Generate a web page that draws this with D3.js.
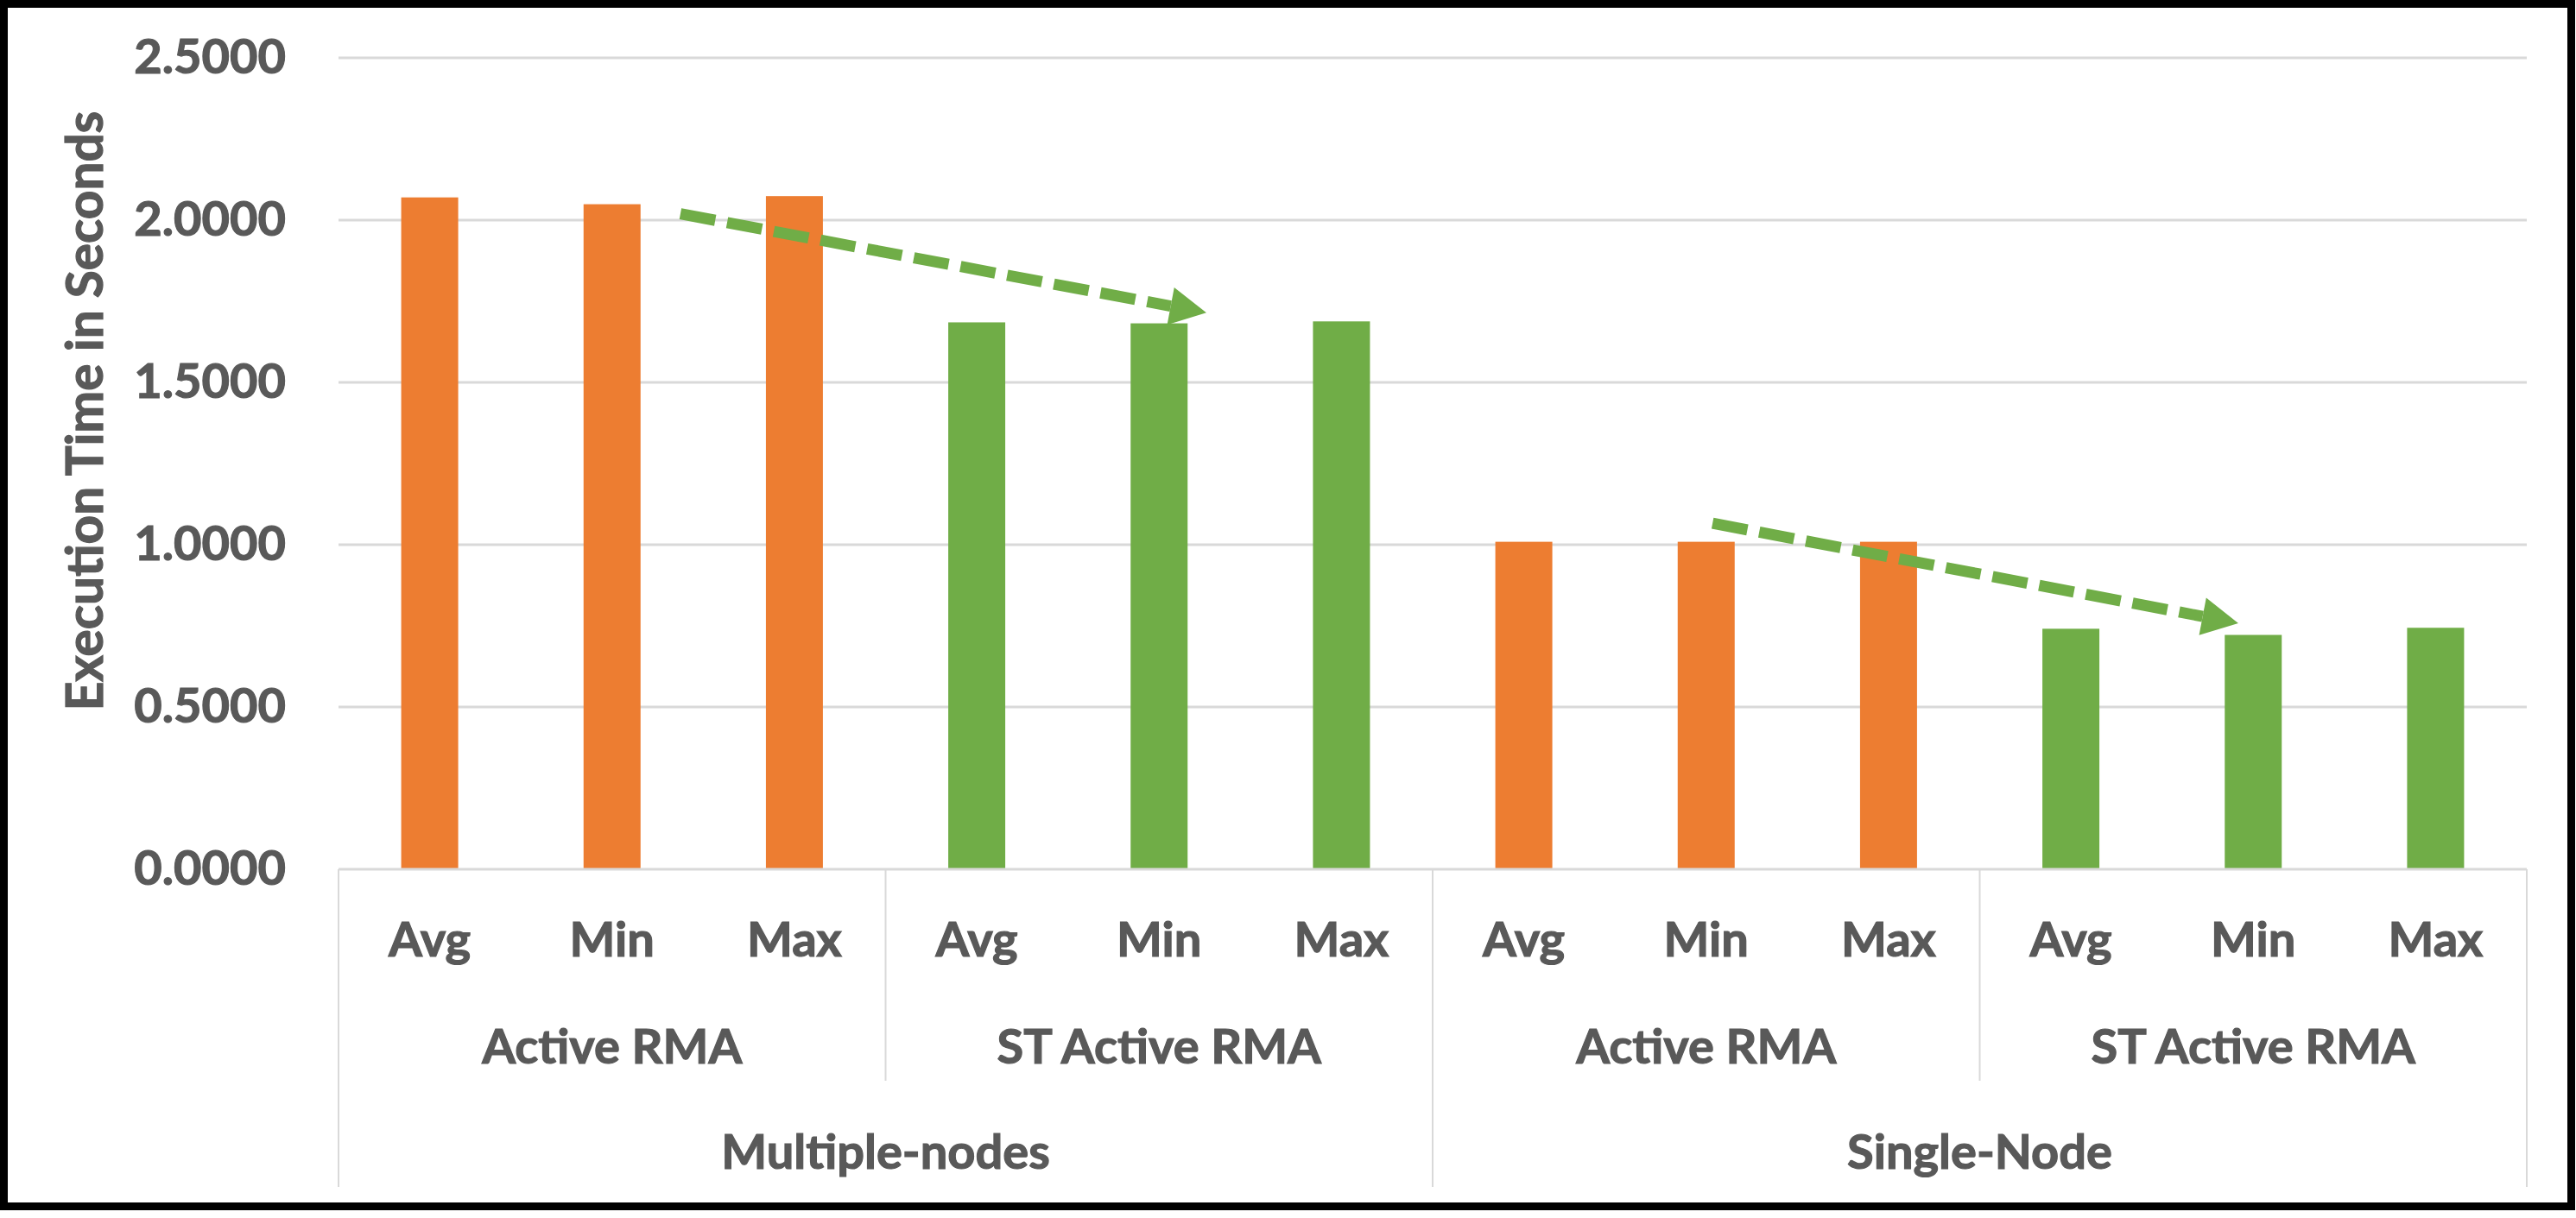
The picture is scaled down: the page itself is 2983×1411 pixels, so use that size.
<!DOCTYPE html>
<html>
<head>
<meta charset="utf-8">
<script src="https://cdn.jsdelivr.net/npm/d3@7"></script>
<style>
  html, body { margin: 0; padding: 0; background: #ffffff; }
  svg { display: block; }
  text { font-family: Lato, "Open Sans", sans-serif; font-weight: 700; fill: #595959; stroke: #595959; stroke-width: 1.2px; }
</style>
</head>
<body>
<svg id="chart" width="2983" height="1411"></svg>
<script>
// ---- data ----
const metrics = ["Avg", "Min", "Max"];
const methods = ["Active RMA", "ST Active RMA"];
const setups = ["Multiple-nodes", "Single-Node"];
const multiActive = [2.070, 2.049, 2.074];
const multiST = [1.685, 1.682, 1.688];
const singleActive = [1.009, 1.009, 1.009];
const singleST = [0.741, 0.722, 0.744];
const yTicks = [0, 0.5, 1.0, 1.5, 2.0, 2.5];
const yTitle = "Execution Time in Seconds";
// trend arrows: position in category-index units (x) and value units (y)
const arrowStartX = [1.875, 7.535];
const arrowStartY = [2.0195, 1.066];
const arrowEndX = [4.759, 10.418];
const arrowEndY = [1.7146, 0.758];

const methodColor = { "Active RMA": "#ED7D31", "ST Active RMA": "#70AD47" };
const seriesBySetup = [[multiActive, multiST], [singleActive, singleST]];

// build flat rows
const rows = [];
setups.forEach((s, si) => {
  methods.forEach((m, mi) => {
    metrics.forEach((k, ki) => {
      rows.push({ setup: s, method: m, metric: k, value: seriesBySetup[si][mi][ki], id: `${si}-${mi}-${ki}` });
    });
  });
});

// ---- layout ----
const svg = d3.select("#chart");
const W = 2983, H = 1411;
const plotL = 392, plotR = 2926, plotT = 67, plotB = 1007;
const grey = "#D9D9D9";

svg.append("rect").attr("x", 0).attr("y", 0).attr("width", W).attr("height", H).attr("fill", "#fff");

const x = d3.scaleBand().domain(rows.map(d => d.id)).range([plotL, plotR])
  .paddingInner(0.6875).paddingOuter(0.6875 / 2);
const xc = d3.scaleLinear().domain([0, rows.length]).range([plotL, plotR]);
const y = d3.scaleLinear().domain([0, 2.5]).range([plotB, plotT]);

// gridlines
svg.append("g").selectAll("line").data(yTicks.filter(t => t > 0)).join("line")
  .attr("x1", plotL).attr("x2", plotR)
  .attr("y1", d => y(d)).attr("y2", d => y(d))
  .attr("stroke", grey).attr("stroke-width", 3);

// y axis labels
const yAxis = d3.axisLeft(y).tickValues(yTicks).tickFormat(d3.format(".4f")).tickSize(0).tickPadding(0);
const gy = svg.append("g").attr("transform", `translate(331,0)`).call(yAxis);
gy.select(".domain").remove();
gy.selectAll("text").attr("font-size", 56).attr("font-family", "Lato").attr("font-weight", 700)
  .attr("fill", "#595959").attr("dy", "0.32em").attr("x", 0);

// y title
svg.append("text").attr("transform", `translate(119,476) rotate(-90)`)
  .attr("text-anchor", "middle").attr("font-size", 58.5).text(yTitle);

// bars
svg.append("g").selectAll("rect").data(rows).join("rect")
  .attr("x", d => x(d.id)).attr("width", x.bandwidth())
  .attr("y", d => y(d.value)).attr("height", d => y(0) - y(d.value))
  .attr("fill", d => methodColor[d.method]);

// category axis lines
svg.append("line").attr("x1", plotL).attr("x2", plotR).attr("y1", plotB).attr("y2", plotB)
  .attr("stroke", grey).attr("stroke-width", 3);
const tier1B = 1252, tier2B = 1375;
const nPerMethod = metrics.length, nPerSetup = metrics.length * methods.length;
const dividers = [];
for (let i = 0; i <= rows.length; i += nPerMethod) {
  dividers.push({ pos: i, bottom: (i % nPerSetup === 0) ? tier2B : tier1B });
}
svg.append("g").selectAll("line").data(dividers).join("line")
  .attr("x1", d => xc(d.pos)).attr("x2", d => xc(d.pos))
  .attr("y1", plotB).attr("y2", d => d.bottom)
  .attr("stroke", grey).attr("stroke-width", 2);

// tier labels
svg.append("g").selectAll("text").data(rows).join("text")
  .attr("x", d => x(d.id) + x.bandwidth() / 2).attr("y", 1108)
  .attr("text-anchor", "middle").attr("font-size", 56).text(d => d.metric);

const groups = [];
setups.forEach((s, si) => methods.forEach((m, mi) => groups.push({ label: m, c: si * nPerSetup + mi * nPerMethod + nPerMethod / 2 })));
svg.append("g").selectAll("text").data(groups).join("text")
  .attr("x", d => xc(d.c)).attr("y", 1232)
  .attr("text-anchor", "middle").attr("font-size", 56).text(d => d.label);

svg.append("g").selectAll("text").data(setups).join("text")
  .attr("x", (d, i) => xc(i * nPerSetup + nPerSetup / 2)).attr("y", 1354)
  .attr("text-anchor", "middle").attr("font-size", 56).text(d => d);

// trend arrows
const green = "#70AD47";
const headLen = 42, headW = 44;
arrowStartX.forEach((_, i) => {
  const sx = xc(arrowStartX[i]), sy = y(arrowStartY[i]);
  const tx = xc(arrowEndX[i]), ty = y(arrowEndY[i]);
  const len = Math.hypot(tx - sx, ty - sy);
  const ux = (tx - sx) / len, uy = (ty - sy) / len;
  const bx = tx - ux * headLen, by = ty - uy * headLen;
  svg.append("line").attr("x1", sx).attr("y1", sy).attr("x2", bx).attr("y2", by)
    .attr("stroke", green).attr("stroke-width", 13).attr("stroke-dasharray", "41,14");
  const px = -uy, py = ux;
  svg.append("polygon").attr("fill", green)
    .attr("points", [[tx, ty], [bx + px * headW / 2, by + py * headW / 2], [bx - px * headW / 2, by - py * headW / 2]].map(p => p.join(",")).join(" "));
});

// frame
svg.append("rect").attr("x", 4.5).attr("y", 4.5).attr("width", 2973).attr("height", 1393)
  .attr("fill", "none").attr("stroke", "#000").attr("stroke-width", 9);
</script>
</body>
</html>
